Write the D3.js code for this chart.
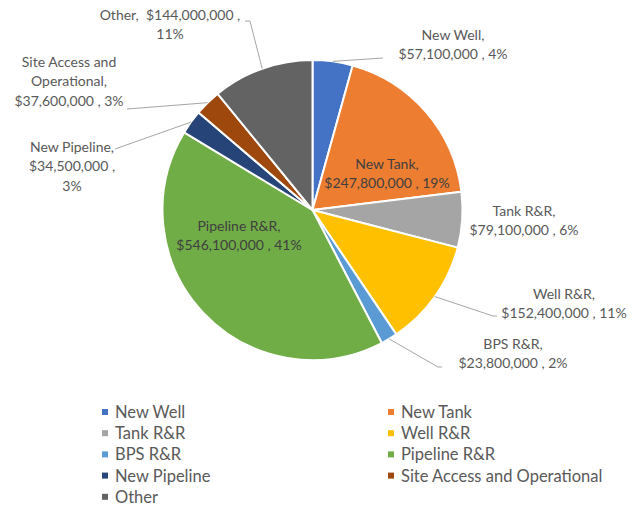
<!DOCTYPE html>
<html><head><meta charset="utf-8">
<script src="https://cdn.jsdelivr.net/npm/d3@7/dist/d3.min.js"></script>
<style>body{margin:0;background:#fff}svg{display:block}text{white-space:pre}</style>
</head><body>
<script>
// ---- data ----
const categories = ["New Well","New Tank","Tank R&R","Well R&R","BPS R&R","Pipeline R&R","New Pipeline","Site Access and Operational","Other"];
const valuesMillions = [57.1, 247.8, 79.1, 152.4, 23.8, 546.1, 34.5, 37.6, 144.0];
const percentLabels = ["4%","19%","6%","11%","2%","41%","3%","3%","11%"];
const colors = ["#4472C4","#ED7D31","#A5A5A5","#FFC000","#5B9BD5","#70AD47","#264478","#9E480E","#636363"];

// ---- layout (label placement, words per line, leader end points) ----
const labelLayout = [
  {x:453, y:34, wrap:[2,3], lead:[[383,58]]},
  {x:387, y:163, wrap:[2,3], inside:true},
  {x:524, y:210, wrap:[2,3]},
  {x:564, y:293, wrap:[2,3], lead:[[493,316],[497,316]]},
  {x:513, y:343, wrap:[2,3], lead:[[438,367],[442,367]]},
  {x:239, y:225, wrap:[2,3], inside:true},
  {x:72, y:146, wrap:[2,2,1], lead:[[115,149]]},
  {x:69, y:61, wrap:[3,1,3], lead:[[127,109]]},
  {x:170, y:14, wrap:[3,1], lead:[[250,21],[245,21]]}
];

const W = 635, H = 506, cx = 312.5, cy = 210, R = 150;
const FONT = "Lato, 'Open Sans', sans-serif";
const svg = d3.select("body").append("svg").attr("width", W).attr("height", H);

const data = categories.map((c,i)=>({name:c, value:valuesMillions[i], pct:percentLabels[i], color:colors[i], lay:labelLayout[i]}));
const pie = d3.pie().sort(null).value(d=>d.value);
const arcs = pie(data);
const arc = d3.arc().innerRadius(0).outerRadius(R);
const edge = d3.arc().innerRadius(R).outerRadius(R);

const g = svg.append("g").attr("transform", `translate(${cx},${cy})`);
g.selectAll("path.slice").data(arcs).enter().append("path")
  .attr("class","slice").attr("d", arc).attr("fill", d=>d.data.color)
  .attr("stroke","#fff").attr("stroke-width",2).attr("stroke-linejoin","round");

// leader lines
const line = d3.line();
arcs.forEach(a=>{
  const lay = a.data.lay;
  if (!lay.lead) return;
  const [ex, ey] = edge.centroid(a);
  const pts = [[cx+ex, cy+ey], ...lay.lead];
  svg.append("path").attr("d", line(pts)).attr("fill","none")
    .attr("stroke","#a6a6a6").attr("stroke-width",1);
});

// labels
const fmt = d3.format("$,");
arcs.forEach(a=>{
  const d = a.data, lay = d.lay;
  const nameWords = d.name.split(" ");
  const words = [...nameWords.slice(0,-1), nameWords[nameWords.length-1] + ", ", fmt(Math.round(d.value*1e6)), ",", d.pct];
  const lines = []; let k = 0;
  lay.wrap.forEach(n=>{ lines.push(words.slice(k,k+n).join(" ").trim()); k += n; });
  const t = svg.append("text").attr("font-family", FONT).attr("font-size", 14)
    .attr("fill", lay.inside ? "#404040" : "#595959").attr("text-anchor","middle");
  lines.forEach((s,i)=>{
    t.append("tspan").attr("x", lay.x).attr("y", lay.y + i*19.5).attr("dominant-baseline","central").text(s);
  });
});

// legend
const legend = svg.append("g");
const colX = [102, 388], rowY0 = 412, rowH = 21.2;
data.forEach((d,i)=>{
  const col = i % 2, row = Math.floor(i/2);
  const x = colX[col], y = rowY0 + row*rowH;
  legend.append("rect").attr("x", x).attr("y", y-3).attr("width",6).attr("height",6).attr("fill", d.color);
  legend.append("text").attr("x", x+13).attr("y", y).attr("dominant-baseline","central")
    .attr("font-family", FONT).attr("font-size", 16.5).attr("fill","#595959").text(d.name);
});
</script>
</body></html>
